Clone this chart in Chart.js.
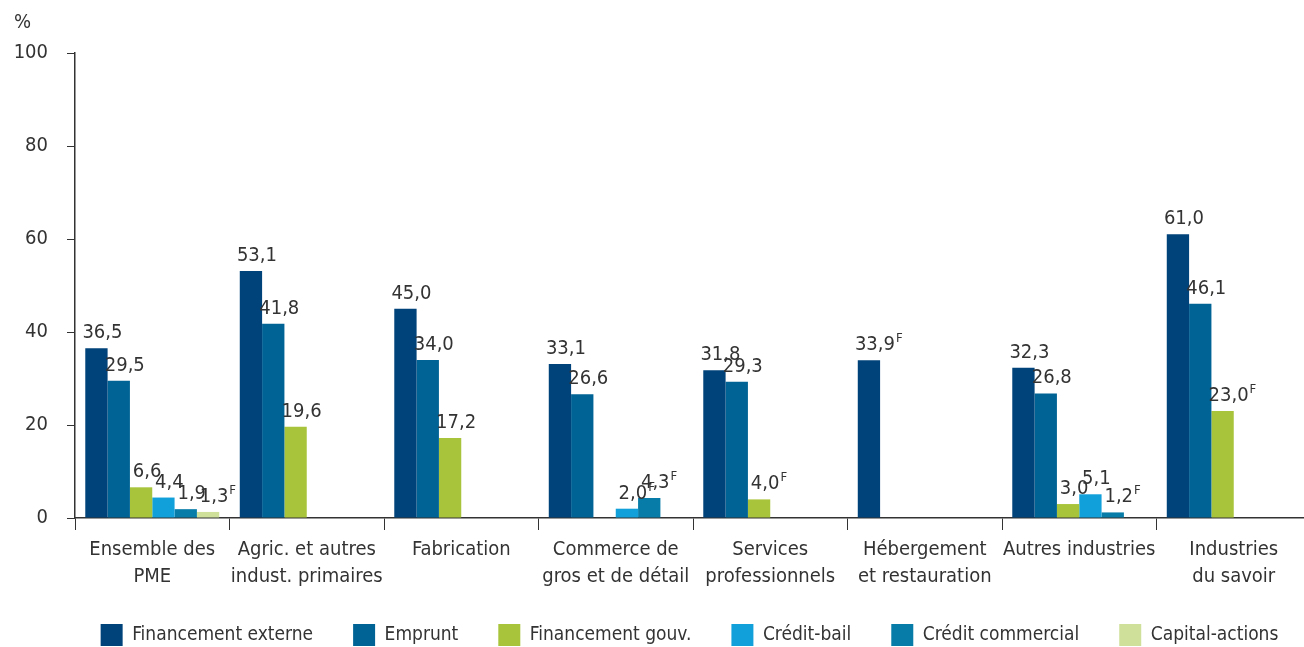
<!DOCTYPE html>
<html>
<head>
<meta charset="utf-8">
<script src="https://cdn.jsdelivr.net/npm/chart.js@4.4.0/dist/chart.umd.min.js"></script>
<style>
  html, body { margin: 0; padding: 0; background: #fff; overflow: hidden; }
  canvas { display: block; }
</style>
</head>
<body>
<canvas id="chart" width="1311" height="647"></canvas>
<script>
// categories (multi-line labels)
const categories = [
  ['Ensemble des', 'PME'],
  ['Agric. et autres', 'indust. primaires'],
  ['Fabrication'],
  ['Commerce de', 'gros et de détail'],
  ['Services', 'professionnels'],
  ['Hébergement', 'et restauration'],
  ['Autres industries'],
  ['Industries', 'du savoir']
];

// series values (%)
const financementExterne = [36.5, 53.1, 45.0, 33.1, 31.8, 33.9, 32.3, 61.0];
const emprunt            = [29.5, 41.8, 34.0, 26.6, 29.3, null, 26.8, 46.1];
const financementGouv    = [6.6, 19.6, 17.2, null, 4.0, null, 3.0, 23.0];
const creditBail         = [4.4, null, null, 2.0, null, null, 5.1, null];
const creditCommercial   = [1.9, null, null, 4.3, null, null, 1.2, null];
const capitalActions     = [1.3, null, null, null, null, null, null, null];

// "F" quality flags (use with caution)
const flagsExterne    = ['', '', '', '', '', 'F', '', ''];
const flagsEmprunt    = ['', '', '', '', '', '', '', ''];
const flagsGouv       = ['', '', '', '', 'F', '', '', 'F'];
const flagsBail       = ['', '', '', 'F', '', '', '', ''];
const flagsCommercial = ['', '', '', 'F', '', '', 'F', ''];
const flagsCapital    = ['F', '', '', '', '', '', '', ''];

const yTicks = [0, 20, 40, 60, 80, 100];

const FONT = "'Liberation Sans Narrow', 'DejaVu Sans Condensed', 'Roboto Condensed', sans-serif";
const TEXT = '#333333';
const LEGEND_H = 30;

function series(label, data, flags, color) {
  return { label, data, flags, backgroundColor: color, borderWidth: 0 };
}

// draw value labels above bars, with superscript F where flagged
const valueLabels = {
  id: 'valueLabels',
  afterDatasetsDraw(chart) {
    const ctx = chart.ctx;
    ctx.save();
    ctx.fillStyle = TEXT;
    chart.data.datasets.forEach((ds, i) => {
      const meta = chart.getDatasetMeta(i);
      meta.data.forEach((bar, j) => {
        const v = ds.data[j];
        if (v == null) return;
        const txt = v.toFixed(1).replace('.', ',');
        ctx.font = '20px ' + FONT;
        const w = ctx.measureText(txt).width;
        const cx = bar.x + 6;
        const y = bar.y - 10;
        ctx.textAlign = 'left';
        ctx.textBaseline = 'alphabetic';
        ctx.fillText(txt, cx - w / 2, y);
        if (ds.flags[j]) {
          ctx.font = '13px ' + FONT;
          ctx.fillText(ds.flags[j], cx + w / 2 + 1, y - 8);
        }
      });
    });
    ctx.restore();
  }
};

// "%" unit label at top left, and keep the legend row compact at the bottom
const extras = {
  id: 'extras',
  beforeLayout(chart) {
    const lg = chart.legend;
    if (lg && !lg._compact) {
      const fit = lg.fit.bind(lg);
      lg.fit = function () { fit(); this.height = LEGEND_H; };
      lg._compact = true;
    }
  },
  beforeDraw(chart) {
    const lg = chart.legend;
    const pad = lg.options.labels.padding;
    lg.left += 34;
    lg.right += 34;
    lg.top = 624 - pad;
  },
  afterDraw(chart) {
    const ctx = chart.ctx;
    ctx.save();
    ctx.font = '20px ' + FONT;
    ctx.fillStyle = TEXT;
    ctx.textAlign = 'left';
    ctx.textBaseline = 'alphabetic';
    ctx.fillText('%', 14, 28);
    ctx.restore();
  }
};

new Chart(document.getElementById('chart'), {
  type: 'bar',
  data: {
    labels: categories,
    datasets: [
      series('Financement externe', financementExterne, flagsExterne, '#00427a'),
      series('Emprunt', emprunt, flagsEmprunt, '#006395'),
      series('Financement gouv.', financementGouv, flagsGouv, '#a8c43a'),
      series('Crédit-bail', creditBail, flagsBail, '#12a0da'),
      series('Crédit commercial', creditCommercial, flagsCommercial, '#077ca8'),
      series('Capital-actions', capitalActions, flagsCapital, '#cfe09a')
    ]
  },
  options: {
    responsive: false,
    animation: false,
    devicePixelRatio: 1,
    layout: { padding: { top: 53, right: 0, bottom: 0, left: 0 } },
    datasets: { bar: { categoryPercentage: 0.867, barPercentage: 1.0 } },
    plugins: {
      tooltip: { enabled: false },
      legend: {
        position: 'bottom',
        labels: {
          boxWidth: 22, boxHeight: 22, padding: 40,
          color: TEXT,
          font: { family: FONT, size: 19 }
        }
      }
    },
    scales: {
      x: {
        afterFit(scale) { scale.height = scale.chart.height - LEGEND_H - 518; },
        grid: { offset: true, drawOnChartArea: false, drawTicks: true, tickLength: 12, color: '#333' },
        border: { color: '#333', width: 1.5 },
        ticks: {
          color: TEXT, padding: 6, maxRotation: 0, autoSkip: false,
          font: { family: FONT, size: 20, lineHeight: 1.35 }
        }
      },
      y: {
        min: 0, max: 100,
        afterBuildTicks(scale) { scale.ticks = yTicks.map(v => ({ value: v })); },
        afterFit(scale) { scale.width = 75; },
        grid: { drawOnChartArea: false, drawTicks: true, tickLength: 8, color: '#333' },
        border: { color: '#333', width: 1.5 },
        ticks: {
          color: TEXT, padding: 19,
          font: { family: FONT, size: 20 }
        }
      }
    }
  },
  plugins: [valueLabels, extras]
});
</script>
</body>
</html>
